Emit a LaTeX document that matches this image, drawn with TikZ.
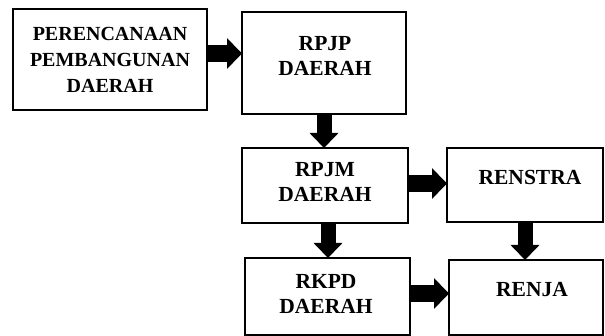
\documentclass[tikz,border=0pt]{standalone}
\usepackage{fontspec}
\setmainfont{Liberation Serif}
\usetikzlibrary{arrows.meta}
\begin{document}
\begin{tikzpicture}[x=1pt,y=-1pt,
  box/.style={draw=black, line width=1.8pt, rectangle, inner sep=0pt, outer sep=0pt, fill=white},
  txt/.style={inner sep=0pt, align=center, font=\bfseries\fontsize{21.5}{25}\selectfont},
  txtsmall/.style={inner sep=0pt, align=center, font=\bfseries\fontsize{20}{26}\selectfont},
  harrow/.style={line width=17pt, -{Triangle[length=15pt,width=30pt]}},
  varrow/.style={line width=15pt, -{Triangle[length=15pt,width=28pt]}}]
\useasboundingbox (0,0) rectangle (605,336);
% boxes
\node[box, minimum width=194pt, minimum height=101pt] (P) at (110,59.5) {};
\node[box, minimum width=164pt, minimum height=102pt] (RPJP) at (324,63) {};
\node[box, minimum width=166pt, minimum height=75pt] (RPJM) at (325,185.5) {};
\node[box, minimum width=156pt, minimum height=74pt] (RENSTRA) at (525,185) {};
\node[box, minimum width=165pt, minimum height=77pt] (RKPD) at (327.5,296.5) {};
\node[box, minimum width=154pt, minimum height=75pt] (RENJA) at (526,297.5) {};
% texts
\node[txtsmall] (tP) at (110,59.5) {PERENCANAAN\\PEMBANGUNAN\\DAERAH};
\node[txt] (tRPJP) at (325,55.5) {RPJP\\DAERAH};
\node[txt] (tRPJM) at (325,182) {RPJM\\DAERAH};
\node[txt] (tRENSTRA) at (530,177.5) {RENSTRA};
\node[txt] (tRKPD) at (326,294) {RKPD\\DAERAH};
\node[txt] (tRENJA) at (532,290) {RENJA};
% arrows
\draw[harrow] ([yshift=6pt]P.east) -- ([yshift=6pt]P.east -| RPJP.west);
\draw[varrow] (RPJP.south) -- (RPJP.south |- RPJM.north);
\draw[harrow] ([yshift=2pt]RPJM.east) -- ([yshift=2pt]RPJM.east -| RENSTRA.west);
\draw[varrow] ([xshift=3pt]RPJM.south) -- ([xshift=3pt]RPJM.south |- RKPD.north);
\draw[varrow] (RENSTRA.south) -- (RENSTRA.south |- RENJA.north);
\draw[harrow] ([yshift=3pt]RKPD.east) -- ([yshift=3pt]RKPD.east -| RENJA.west);
\end{tikzpicture}
\end{document}
